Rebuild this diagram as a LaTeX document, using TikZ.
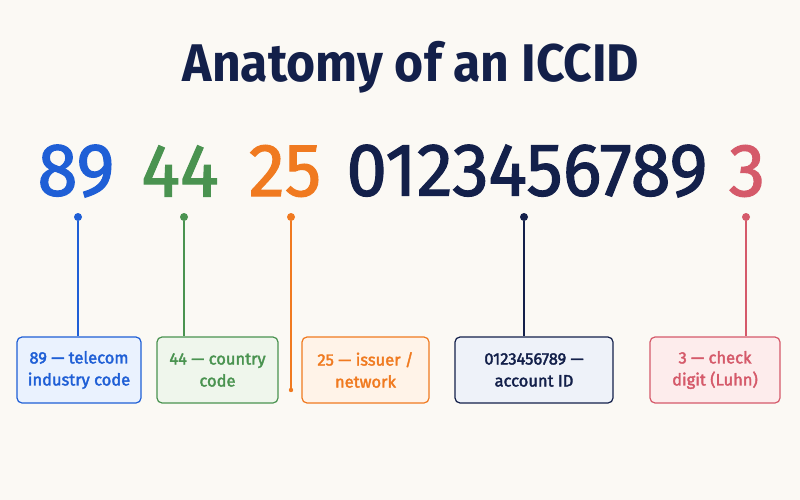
\documentclass[tikz,border=0pt]{standalone}
\usepackage{fontspec}
\setmainfont{Fira Sans}
\newfontfamily\medfont{Fira Sans}[FakeBold=1.6]
\newfontfamily\boxfont{Fira Sans}[FakeBold=2.2]
\definecolor{bg}{HTML}{FBF9F4}
\definecolor{navy}{HTML}{13204A}
\definecolor{cblue}{HTML}{1F5FD6}
\definecolor{cgreen}{HTML}{4A9350}
\definecolor{corange}{HTML}{F07A20}
\definecolor{cred}{HTML}{D55A6A}
\definecolor{fblue}{HTML}{EAF2FE}
\definecolor{fgreen}{HTML}{EFF6EC}
\definecolor{forange}{HTML}{FFF3E8}
\definecolor{fnavy}{HTML}{EEF2F9}
\definecolor{fred}{HTML}{FDECEC}
\begin{document}
\begin{tikzpicture}[x=1pt,y=-1pt,
  digits/.style={font=\medfont\fontsize{75}{80}\selectfont, xscale=0.97, inner sep=0pt, anchor=center},
  dotmark/.style={circle, fill, inner sep=0pt, minimum size=8pt},
  infobox/.style={draw, line width=1.2pt, rounded corners=5pt, minimum height=66pt, align=center,
     font=\boxfont\fontsize{16.5}{22}\selectfont, inner sep=0pt},
  conn/.style={line width=1.3pt}]
\fill[bg] (0,0) rectangle (800,500);
\useasboundingbox (0,0) rectangle (800,500);
\node[font=\fontsize{53}{60}\selectfont\bfseries, text=navy, xscale=0.94] (title) at (411,67) {Anatomy of an ICCID};

\node[digits, text=cblue] (g1) at (76,171) {89};
\node[digits, text=cgreen] (g2) at (180,171) {44};
\node[digits, text=corange] (g3) at (285,171) {25};
\node[digits, text=navy] (g4) at (527,171) {0123456789};
\node[digits, text=cred] (g5) at (747,171) {3};

\node[dotmark, cblue] (d1) at (78,217) {};
\node[dotmark, cgreen] (d2) at (184,217) {};
\node[dotmark, corange] (d3) at (291,217) {};
\node[dotmark, navy] (d4) at (524,217) {};
\node[dotmark, cred] (d5) at (746,217) {};

\node[infobox, draw=cblue, fill=fblue, text=cblue, minimum width=124pt] (b1) at (79,370) {89 — telecom\\industry code};
\node[infobox, draw=cgreen, fill=fgreen, text=cgreen, minimum width=121pt] (b2) at (217.5,370) {44 — country\\code};
\node[infobox, draw=corange, fill=forange, text=corange, minimum width=127pt] (b3) at (365.5,370) {25 — issuer /\\network};
\node[infobox, draw=navy, fill=fnavy, text=navy, minimum width=158pt] (b4) at (534,370) {0123456789 —\\account ID};
\node[infobox, draw=cred, fill=fred, text=cred, minimum width=130pt] (b5) at (715,370) {3 — check\\digit (Luhn)};

\coordinate (e3) at (291,390);
\draw[conn, cblue] (d1) -- (d1 |- b1.north);
\draw[conn, cgreen] (d2) -- (d2 |- b2.north);
\draw[conn, corange] (d3) -- (e3);
\fill[corange] (e3) circle (2.2pt);
\draw[conn, navy] (d4) -- (d4 |- b4.north);
\draw[conn, cred] (d5) -- (d5 |- b5.north);
\end{tikzpicture}
\end{document}
